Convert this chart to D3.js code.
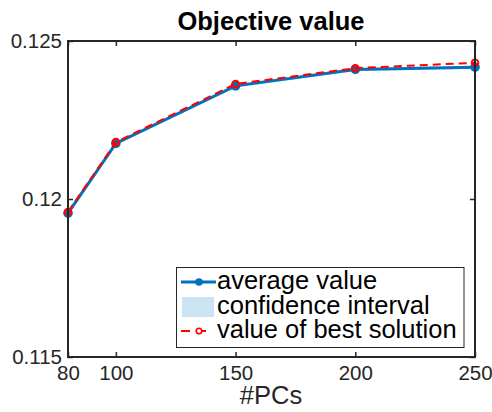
<!DOCTYPE html>
<html><head><meta charset="utf-8">
<script src="https://cdn.jsdelivr.net/npm/d3@7"></script>
<style>body{margin:0;background:#fff}svg{display:block}text{font-family:"Liberation Sans",Arial,sans-serif}</style>
</head><body><svg id="c" width="492" height="412"></svg>
<script>
const pcs = [80, 100, 150, 200, 250];
const avgValue = [0.11955, 0.12176, 0.12358, 0.12410, 0.12417];
const ciLow = [0.11950, 0.12171, 0.12353, 0.12405, 0.12412];
const ciHigh = [0.11960, 0.12181, 0.12363, 0.12415, 0.12422];
const bestValue = [0.11959, 0.12180, 0.12364, 0.12414, 0.12431];
const xTicks = [80, 100, 150, 200, 250];
const yTicks = [0.115, 0.12, 0.125];
const yTickLabels = ["0.115", "0.12", "0.125"];
const legendLabels = ["average value", "confidence interval", "value of best solution"];

const svg = d3.select("#c");
const L = 68, R = 475, T = 41, B = 357;
const x = d3.scaleLinear().domain([80, 250]).range([L, R]);
const y = d3.scaleLinear().domain([0.115, 0.125]).range([B, T]);
const axisCol = "#262626";

// CI band
const area = d3.area().x((d,i)=>x(pcs[i])).y0((d,i)=>y(ciLow[i])).y1((d,i)=>y(ciHigh[i]));
svg.append("path").attr("d", area(pcs)).attr("fill", "#cce3f2");

// avg line
const line = d3.line().x((d,i)=>x(pcs[i])).y(d=>y(d));
svg.append("path").attr("d", line(avgValue)).attr("fill","none").attr("stroke","#0072BD").attr("stroke-width",3);
svg.selectAll(".am").data(avgValue).join("circle").attr("cx",(d,i)=>x(pcs[i])).attr("cy",d=>y(d)).attr("r",4.8).attr("fill","#0072BD");

// best line
svg.append("path").attr("d", line(bestValue)).attr("fill","none").attr("stroke","#FF0000").attr("stroke-width",2).attr("stroke-dasharray","8,5");
svg.selectAll(".bm").data(bestValue).join("circle").attr("cx",(d,i)=>x(pcs[i])).attr("cy",d=>y(d)).attr("r",3.3).attr("fill","none").attr("stroke","#FF0000").attr("stroke-width",2);

// axes
const gx = svg.append("g").attr("transform",`translate(0,${B})`)
  .call(d3.axisBottom(x).tickValues(xTicks).tickSize(-5).tickPadding(8).tickFormat(d3.format("d")));
const gxt = svg.append("g").attr("transform",`translate(0,${T})`)
  .call(d3.axisTop(x).tickValues(xTicks).tickSize(-5).tickFormat(""));
const gy = svg.append("g").attr("transform",`translate(${L},0)`)
  .call(d3.axisLeft(y).tickValues(yTicks).tickSize(-5).tickPadding(6).tickFormat((d,i)=>yTickLabels[i]));
const gyr = svg.append("g").attr("transform",`translate(${R},0)`)
  .call(d3.axisRight(y).tickValues(yTicks).tickSize(-5).tickFormat(""));
[gx,gxt,gy,gyr].forEach(g=>{
  g.select(".domain").remove();
  g.selectAll(".tick line").attr("stroke",axisCol).attr("stroke-width",1.5);
  g.selectAll("text").attr("fill","#262626").style("font-size","20.5px").style("font-family","'Liberation Sans',Arial,sans-serif");
});
svg.append("rect").attr("x",L).attr("y",T).attr("width",R-L).attr("height",B-T).attr("fill","none").attr("stroke",axisCol).attr("stroke-width",2);

// title
svg.append("text").attr("x",271).attr("y",30).attr("text-anchor","middle").style("font-size","25.5px").style("font-weight","bold").attr("fill","#000").text("Objective value");
svg.append("text").attr("x",271).attr("y",404).attr("text-anchor","middle").style("font-size","25.5px").attr("fill","#262626").text("#PCs");

// legend
const lg = svg.append("g");
lg.append("rect").attr("x",176.5).attr("y",267.5).attr("width",287.5).attr("height",80).attr("fill","#fff").attr("stroke",axisCol).attr("stroke-width",1);
const rows = [282, 307, 331];
lg.append("line").attr("x1",181).attr("x2",216).attr("y1",rows[0]).attr("y2",rows[0]).attr("stroke","#0072BD").attr("stroke-width",3);
lg.append("circle").attr("cx",199).attr("cy",rows[0]).attr("r",3.8).attr("fill","#0072BD");
lg.append("rect").attr("x",182).attr("y",rows[1]-10).attr("width",32).attr("height",20).attr("fill","#cce3f2");
lg.append("line").attr("x1",181).attr("x2",190).attr("y1",rows[2]).attr("y2",rows[2]).attr("stroke","#FF0000").attr("stroke-width",2);
lg.append("line").attr("x1",202).attr("x2",206).attr("y1",rows[2]).attr("y2",rows[2]).attr("stroke","#FF0000").attr("stroke-width",2);
lg.append("circle").attr("cx",199).attr("cy",rows[2]).attr("r",2.8).attr("fill","#fff").attr("stroke","#FF0000").attr("stroke-width",1.6);
lg.selectAll("text.l").data(legendLabels).join("text").attr("x",217).attr("y",(d,i)=>rows[i]+7).style("font-size","25.5px").attr("fill","#000").text(d=>d);
</script></body></html>
